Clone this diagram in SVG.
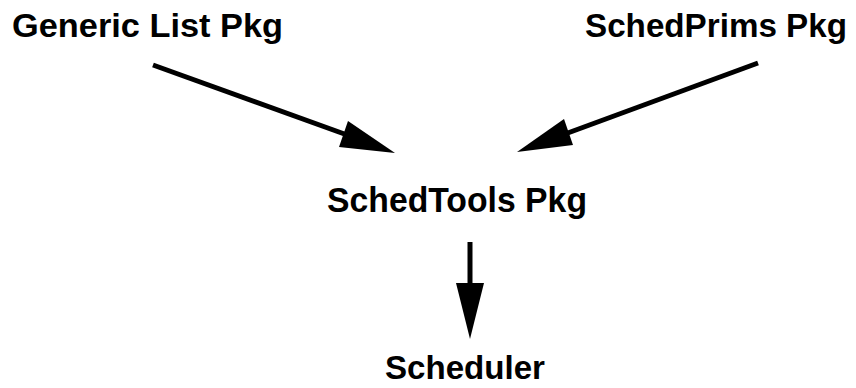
<svg xmlns="http://www.w3.org/2000/svg" width="856" height="388" viewBox="0 0 856 388">
<style>
.lbl{font-family:"Liberation Sans",Arial,sans-serif;font-weight:bold;font-size:34px;fill:#000}
.edge{stroke:#000;stroke-width:5;fill:none}
.head{fill:#000}
</style>
<rect width="856" height="388" fill="#fff"/>
<g id="connectors">
<line class="edge" x1="153" y1="65" x2="350" y2="136"/>
<polygon class="head" points="395,153 339,147 348,121"/>
<line class="edge" x1="758" y1="63" x2="565" y2="134"/>
<polygon class="head" points="517,152 564,119 573,145"/>
<line class="edge" x1="470" y1="242" x2="470" y2="290"/>
<polygon class="head" points="470,339 456,283 484,283"/>
</g>
<g id="generic"><text class="lbl" x="12" y="37" textLength="271" lengthAdjust="spacingAndGlyphs">Generic List Pkg</text></g>
<g id="schedprims"><text class="lbl" x="585" y="37" textLength="262" lengthAdjust="spacingAndGlyphs">SchedPrims Pkg</text></g>
<g id="schedtools"><text class="lbl" x="327" y="212" textLength="260" lengthAdjust="spacingAndGlyphs" style="font-size:35px">SchedTools Pkg</text></g>
<g id="scheduler"><text class="lbl" x="385" y="379" textLength="160" lengthAdjust="spacingAndGlyphs" style="font-size:33px">Scheduler</text></g>
</svg>
